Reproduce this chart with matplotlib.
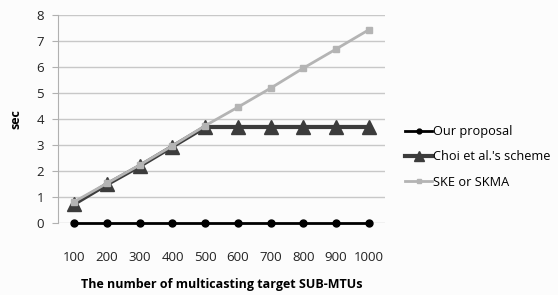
import matplotlib.pyplot as plt

# values
targets = ["100", "200", "300", "400", "500", "600", "700", "800", "900", "1000"]
our_proposal = [0, 0, 0, 0, 0, 0, 0, 0, 0, 0]
choi_scheme = [0.75, 1.5, 2.2, 2.95, 3.7, 3.7, 3.7, 3.7, 3.7, 3.7]
ske_skma = [0.83, 1.54, 2.24, 2.98, 3.75, 4.46, 5.19, 5.96, 6.69, 7.43]

plt.rcParams['font.family'] = ['Open Sans', 'DejaVu Sans']

fig = plt.figure(figsize=(5.58, 2.95), dpi=100)
fig.patch.set_facecolor('#fcfcfc')
ax = fig.add_axes([0.104, 0.243, 0.586, 0.706])
ax.set_facecolor('#fcfcfc')

x = list(range(len(targets)))
ax.plot(x, our_proposal, color='black', linewidth=2, marker='o', markersize=5,
        label='Our proposal', zorder=5, clip_on=False)
ax.plot(x, choi_scheme, color='#3c3c3c', linewidth=3, marker='^', markersize=10,
        label="Choi et al.'s scheme", zorder=3, clip_on=False)
ax.plot(x, ske_skma, color='#b4b4b4', linewidth=2, marker='s', markersize=5,
        label='SKE or SKMA', zorder=4, clip_on=False)

ax.set_xlim(-0.5, len(targets) - 0.5)
ax.set_ylim(0, 8)
ax.set_xticks(x)
ax.set_xticklabels(targets)
ax.set_yticks(range(0, 9))
ax.grid(axis='y', color='#c8c8c8', linewidth=1)
ax.set_axisbelow(True)
for s in ['top', 'right', 'bottom']:
    ax.spines[s].set_visible(False)
ax.spines['left'].set_color('#b0b0b0')
ax.tick_params(axis='x', length=0, pad=20, labelsize=9.5, colors='#222222')
ax.tick_params(axis='y', length=4, color='#b0b0b0', pad=6, labelsize=9.5, colors='#222222')

ax.set_ylabel('sec', fontweight='bold', fontsize=9, labelpad=10)
ax.set_xlabel('The number of multicasting target SUB-MTUs', fontweight='bold',
              fontsize=9, labelpad=10)

ax.legend(loc='center left', bbox_to_anchor=(0.726, 0.468),
          bbox_transform=fig.transFigure, frameon=False,
          fontsize=9.2, handlelength=2.1, handletextpad=0.05, labelspacing=0.95,
          markerscale=0.7, borderaxespad=0, borderpad=0)

fig.savefig('out.png', dpi=100, facecolor=fig.get_facecolor())
